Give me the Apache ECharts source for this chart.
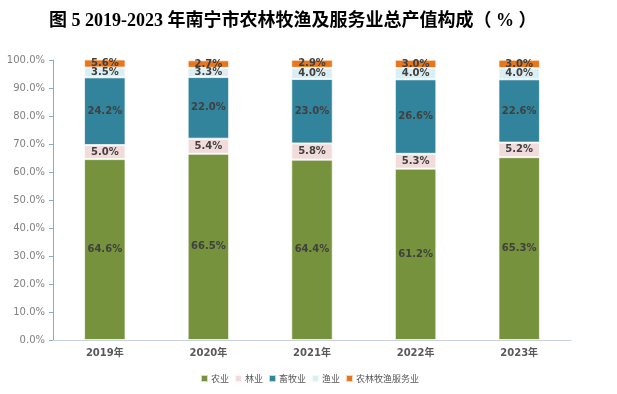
<!DOCTYPE html>
<html><head><meta charset="utf-8">
<script src="https://cdn.jsdelivr.net/npm/echarts@6/dist/echarts.min.js"></script>
<style>html,body{margin:0;padding:0;background:#fff}#c{width:617px;height:394px}</style>
</head><body><div id="c"></div>
<script>
const categories = ['2019年','2020年','2021年','2022年','2023年'];
const seriesNames = ['农业','林业','畜牧业','渔业','农林牧渔服务业'];
const agriculture = [64.6, 66.5, 64.4, 61.2, 65.3];
const forestry = [5.0, 5.4, 5.8, 5.3, 5.2];
const livestock = [24.2, 22.0, 23.0, 26.6, 22.6];
const fishery = [3.5, 3.3, 4.0, 4.0, 4.0];
const services = [5.6, 2.7, 2.9, 3.0, 3.0];
const colors = ['#76923c','#f2dcdb','#31849b','#dbeef4','#e9761a'];
const allData = [agriculture, forestry, livestock, fishery, services];

const chart = echarts.init(document.getElementById('c'), null, {renderer:'canvas'});
chart.setOption({
  animation: false,
  title: {
    text: '图 5 2019-2023 年南宁市农林牧渔及服务业总产值构成（ % ）',
    left: 44, top: 7,
    textStyle: {fontFamily: '"Liberation Serif","Noto Sans CJK SC",serif', fontWeight: 'bold', fontSize: 18, color: '#000'}
  },
  legend: {
    top: 369, left: 195,
    icon: 'rect', itemWidth: 7, itemHeight: 7, itemGap: 5,
    textStyle: {fontFamily: '"Noto Sans CJK SC"', fontSize: 9, color: '#595959', padding: [0,0,0,-2]},
    data: seriesNames
  },
  grid: {left: 53, right: 46, top: 60, bottom: 54},
  xAxis: {
    type: 'category', data: categories,
    axisLine: {lineStyle: {color: '#c8d2dc'}},
    axisTick: {show: false},
    axisLabel: {fontFamily: '"DejaVu Sans","Noto Sans CJK SC"', fontWeight: 'bold', fontSize: 10, color: '#595959', margin: 8}
  },
  yAxis: {
    type: 'value', min: 0, max: 100, interval: 10,
    splitLine: {show: false},
    axisLine: {show: true, lineStyle: {color: '#8eaac8'}},
    axisTick: {show: true, length: 4, lineStyle: {color: '#8eaac8'}},
    axisLabel: {fontFamily: '"DejaVu Sans"', fontSize: 10, color: '#7f7f7f', margin: 8,
      formatter: v => v.toFixed(1) + '%'}
  },
  series: seriesNames.map((n, i) => ({
    name: n, type: 'bar', stack: 'total', barWidth: '40%',
    data: allData[i],
    itemStyle: {color: colors[i], borderColor: 'rgba(255,255,255,0.7)', borderWidth: 1},
    label: {show: true, position: 'inside', formatter: p => p.value.toFixed(1) + '%',
      fontFamily: '"DejaVu Sans"', fontWeight: 'bold', fontSize: 10, color: '#404040'}
  }))
});
</script></body></html>
